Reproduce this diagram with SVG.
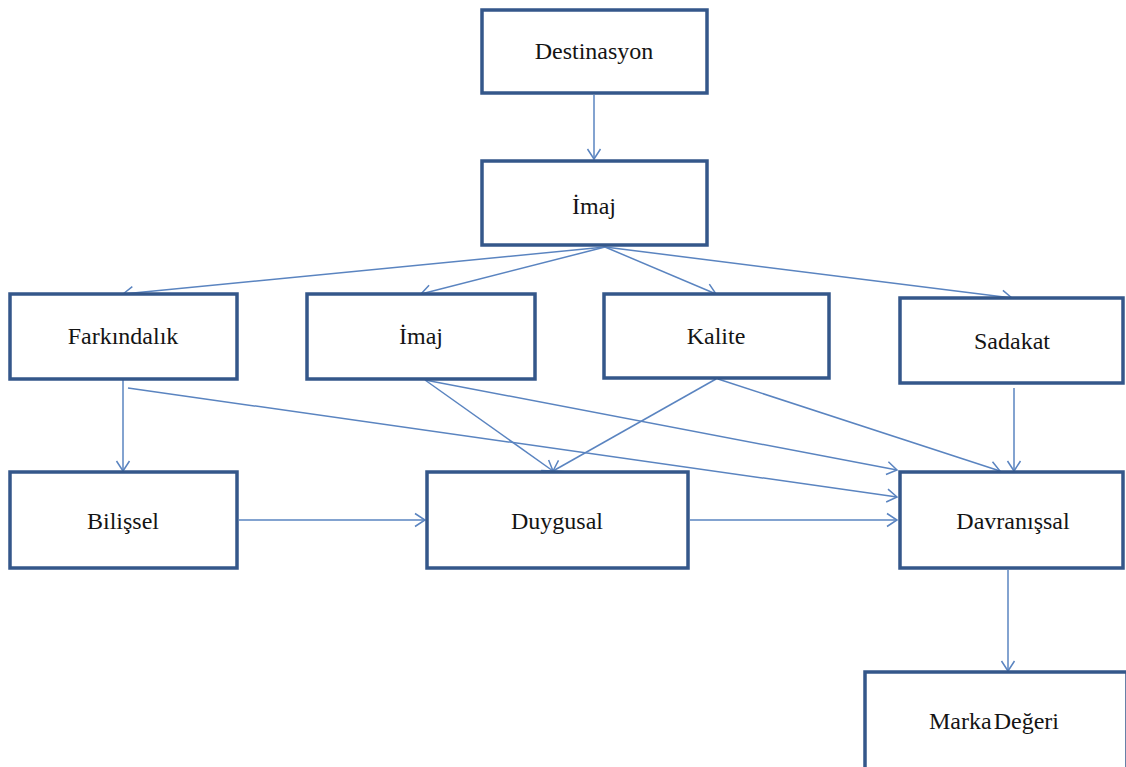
<svg xmlns="http://www.w3.org/2000/svg" width="1126" height="767" viewBox="0 0 1126 767">
  <style>
    .box { fill: #ffffff; stroke: #34578a; stroke-width: 3.5; }
    .lbl { font-family: "Liberation Serif", "Times New Roman", serif; font-size: 24px; fill: #141414; text-anchor: middle; }
    .edge { fill: none; stroke: #5a84c0; stroke-width: 1.5; marker-end: url(#arrow); }
  </style>
  <defs>
    <marker id="arrow" markerUnits="userSpaceOnUse" markerWidth="14" markerHeight="16" refX="11" refY="7" orient="auto" overflow="visible">
      <path d="M1,0.5 L11,7 L1,13.5" fill="none" stroke="#5a84c0" stroke-width="1.5"/>
    </marker>
  </defs>
  <rect width="1126" height="767" fill="#ffffff"/>

  <!-- connectors -->
  <g id="connectors">
    <line class="edge" x1="594" y1="95" x2="594" y2="159"/>
    <line class="edge" x1="605" y1="247" x2="123" y2="294"/>
    <line class="edge" x1="605" y1="247" x2="421" y2="294"/>
    <line class="edge" x1="605" y1="247" x2="716" y2="294"/>
    <line class="edge" x1="605" y1="247" x2="1012" y2="298"/>
    <line class="edge" x1="123" y1="380" x2="123" y2="471"/>
    <line class="edge" x1="128" y1="388" x2="897" y2="497"/>
    <line class="edge" x1="425" y1="380" x2="553" y2="471"/>
    <line class="edge" x1="425" y1="380" x2="897" y2="470"/>
    <line class="edge" x1="716" y1="379" x2="553" y2="471"/>
    <line class="edge" x1="718" y1="379" x2="1000" y2="471"/>
    <line class="edge" x1="1014" y1="388" x2="1014" y2="471"/>
    <line class="edge" x1="239" y1="520" x2="425" y2="520"/>
    <line class="edge" x1="690" y1="520" x2="897" y2="520"/>
    <line class="edge" x1="1008" y1="570" x2="1008" y2="671"/>
  </g>

  <g id="destinasyon">
    <rect class="box" x="482" y="10" width="225" height="83"/>
    <text class="lbl" x="594" y="59">Destinasyon</text>
  </g>
  <g id="imaj-top">
    <rect class="box" x="482" y="161" width="225" height="84"/>
    <text class="lbl" x="594" y="214">İmaj</text>
  </g>
  <g id="farkindalik">
    <rect class="box" x="10" y="294" width="227" height="85"/>
    <text class="lbl" x="123" y="344">Farkındalık</text>
  </g>
  <g id="imaj">
    <rect class="box" x="307" y="294" width="228" height="85"/>
    <text class="lbl" x="421" y="344">İmaj</text>
  </g>
  <g id="kalite">
    <rect class="box" x="604" y="294" width="225" height="84"/>
    <text class="lbl" x="716" y="344">Kalite</text>
  </g>
  <g id="sadakat">
    <rect class="box" x="900" y="298" width="223" height="85"/>
    <text class="lbl" x="1012" y="349">Sadakat</text>
  </g>
  <g id="bilissel">
    <rect class="box" x="10" y="472" width="227" height="96"/>
    <text class="lbl" x="123" y="529">Bilişsel</text>
  </g>
  <g id="duygusal">
    <rect class="box" x="427" y="472" width="261" height="96"/>
    <text class="lbl" x="557" y="529">Duygusal</text>
  </g>
  <g id="davranissal">
    <rect class="box" x="900" y="472" width="223" height="96"/>
    <text class="lbl" x="1013" y="529">Davranışsal</text>
  </g>
  <g id="marka-degeri">
    <rect class="box" x="865" y="672" width="262" height="100"/>
    <text class="lbl" x="994" y="729" word-spacing="-4">Marka Değeri</text>
  </g>
</svg>
